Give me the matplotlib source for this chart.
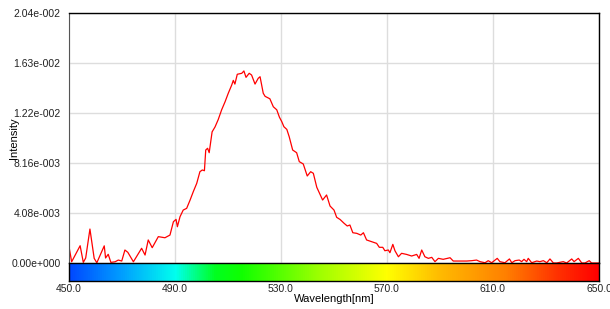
import matplotlib
matplotlib.use("Agg")
import matplotlib.pyplot as plt
import numpy as np
from matplotlib.colors import LinearSegmentedColormap
from matplotlib.ticker import FuncFormatter

# Spectrum (wavelength in nm, intensity in units of 1e-3)
wavelength = [
    450.0, 451.0, 454.2, 455.4, 456.3, 457.9, 459.5, 460.5, 463.3, 463.8,
    464.8, 465.8, 467.4, 468.6, 469.9, 471.1, 472.2, 474.3, 477.4, 478.7,
    479.9, 481.4, 483.7, 486.2, 488.1, 489.4, 490.4, 490.9, 491.9, 493.1,
    494.4, 495.7, 496.9, 498.2, 499.4, 500.3, 501.1, 501.6, 502.3, 502.9,
    503.6, 504.0, 505.1, 506.3, 507.6, 508.9, 510.1, 511.4, 512.0, 512.6,
    513.5, 515.2, 516.0, 516.8, 518.0, 518.9, 520.2, 521.4, 522.1, 523.3,
    524.0, 525.8, 527.1, 528.4, 529.4, 530.3, 531.1, 532.2, 533.1, 534.4,
    535.9, 536.9, 538.4, 539.9, 541.2, 542.2, 543.5, 545.7, 547.2, 548.5,
    550.0, 551.0, 552.3, 553.8, 555.0, 556.0, 557.1, 558.6, 560.1, 561.1,
    562.3, 564.2, 566.1, 567.1, 568.4, 569.2, 570.5, 571.1, 572.2, 573.0,
    574.3, 575.5, 577.4, 579.3, 581.2, 582.1, 583.1, 584.3, 585.6, 586.9,
    588.1, 589.4, 591.2, 593.8, 595.0, 597.5, 600.1, 602.0, 603.8, 605.1,
    607.0, 608.2, 609.5, 611.6, 612.6, 614.5, 616.2, 617.1, 618.3, 619.9,
    620.8, 621.7, 622.7, 623.3, 624.6, 626.5, 627.7, 629.0, 630.3, 631.5,
    632.8, 634.0, 636.5, 637.8, 639.7, 640.6, 642.2, 643.5, 644.7, 646.3,
    647.2, 649.1, 650.0,
]
intensity_e3 = [
    1.33, 0.10, 1.41, 0.05, 0.41, 2.77, 0.38, 0.02, 1.40, 0.41,
    0.71, 0.05, 0.10, 0.24, 0.16, 1.06, 0.87, 0.10, 1.20, 0.65,
    1.88, 1.25, 2.15, 2.06, 2.28, 3.37, 3.56, 2.96, 3.78, 4.32,
    4.46, 5.14, 5.82, 6.50, 7.45, 7.59, 7.53, 9.22, 9.36, 9.00,
    10.1, 10.7, 11.1, 11.7, 12.5, 13.16, 13.85, 14.52, 14.9, 14.6,
    15.4, 15.48, 15.67, 15.15, 15.48, 15.34, 14.6, 15.07, 15.2, 13.85,
    13.6, 13.4, 12.75, 12.5, 11.9, 11.53, 11.12, 10.9, 10.3, 9.22,
    9.0, 8.27, 8.08, 7.1, 7.45, 7.32, 6.18, 5.14, 5.55, 4.65,
    4.32, 3.73, 3.55, 3.24, 3.02, 3.10, 2.47, 2.42, 2.28, 2.47,
    1.88, 1.74, 1.60, 1.28, 1.28, 1.00, 1.06, 0.84, 1.52, 1.00,
    0.51, 0.79, 0.70, 0.57, 0.70, 0.38, 1.06, 0.51, 0.38, 0.46,
    0.11, 0.38, 0.30, 0.43, 0.16, 0.16, 0.16, 0.19, 0.24, 0.11,
    0.02, 0.19, 0.02, 0.38, 0.11, 0.02, 0.33, 0.02, 0.19, 0.24,
    0.11, 0.30, 0.11, 0.38, 0.02, 0.16, 0.11, 0.19, 0.02, 0.33,
    0.0, 0.0, 0.11, 0.0, 0.33, 0.11, 0.38, 0.0, 0.0, 0.19,
    0.0, 0.0, 0.0,
]
x_ticks = [450.0, 490.0, 530.0, 570.0, 610.0, 650.0]
y_max = 2.04e-2

# spectrum strip colours (wavelength stop, colour)
strip_stops = [
    (450, "#0048ff"), (470, "#00a0ff"), (490, "#00ffee"),
    (505, "#00ff20"), (515, "#10ff00"), (545, "#a0ff00"),
    (570, "#ffff00"), (590, "#ffbb00"), (615, "#ff8000"),
    (635, "#ff3000"), (650, "#ff0000"),
]


def sci_fmt(v, pos):
    if v == 0:
        return "0.00e+000"
    exp = int(np.floor(np.log10(abs(v))))
    mant = v / 10 ** exp
    if round(mant, 2) >= 10:
        mant /= 10
        exp += 1
    sign = "+" if exp >= 0 else "-"
    return f"{mant:.2f}e{sign}{abs(exp):03d}"


plt.rcParams["font.family"] = ["Liberation Sans", "DejaVu Sans"]
fig = plt.figure(figsize=(6.1, 3.09), dpi=100)

ax = fig.add_axes([69 / 610, 46 / 309, 530 / 610, 250 / 309])
wl = np.array(wavelength)
inten = np.array(intensity_e3) * 1e-3
ax.plot(wl, inten, color="#ff0000", lw=0.9)
ax.set_xlim(450, 650)
ax.set_ylim(0, y_max)
ax.set_xticks(x_ticks)
ax.set_yticks(np.linspace(0, y_max, 6))
ax.yaxis.set_major_formatter(FuncFormatter(sci_fmt))
ax.tick_params(axis="x", bottom=False, labelbottom=False)
ax.tick_params(axis="y", length=0, labelsize=7.5, pad=6, colors="#222222")
ax.grid(True, color="#dddddd", lw=1)
ax.set_axisbelow(True)
ax.spines["left"].set_color("#555555")
ax.spines["bottom"].set_visible(False)
for s in ("top", "right"):
    ax.spines[s].set_color("black")
    ax.spines[s].set_linewidth(1)
ax.set_ylabel("Intensity", fontsize=8, labelpad=2)
ax.yaxis.set_label_coords(-0.095, 0.5)

cax = fig.add_axes([69 / 610, 28 / 309, 530 / 610, 18 / 309])
stops = [((w - 450) / 200, c) for w, c in strip_stops]
cmap = LinearSegmentedColormap.from_list("spectrum", stops)
grad = np.linspace(0, 1, 512).reshape(1, -1)
cax.imshow(grad, aspect="auto", cmap=cmap, extent=[450, 650, 0, 1])
cax.set_xlim(450, 650)
cax.set_yticks([])
cax.set_xticks(x_ticks)
cax.set_xticklabels([f"{t:.1f}" for t in x_ticks])
cax.tick_params(axis="x", length=0, labelsize=7.5, pad=2, colors="#222222")
for s in cax.spines.values():
    s.set_color("black")
    s.set_linewidth(1)
cax.set_xlabel("Wavelength[nm]", fontsize=8, labelpad=0)

fig.savefig("out.png", dpi=100)
